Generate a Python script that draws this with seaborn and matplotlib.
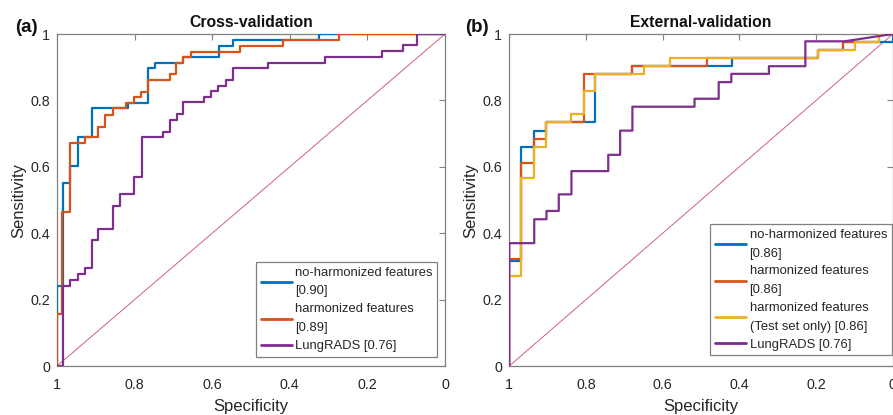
import matplotlib
matplotlib.use("Agg")
import matplotlib.pyplot as plt
import seaborn as sns
import pandas as pd

# ---------------- data ----------------
# Panel (a) Cross-validation
a_blue_spec = [1, 1, 0.984, 0.984, 0.966, 0.966, 0.947, 0.947, 0.911, 0.911, 0.817, 0.817,
               0.765, 0.765, 0.747, 0.747, 0.675, 0.675, 0.582, 0.582, 0.546, 0.546, 0.326, 0.326, 0]
a_blue_sens = [0, 0.241, 0.241, 0.552, 0.552, 0.603, 0.603, 0.689, 0.689, 0.776, 0.776, 0.793,
               0.793, 0.897, 0.897, 0.914, 0.914, 0.932, 0.932, 0.965, 0.965, 0.982, 0.982, 1.0, 1.0]

a_orange_spec = [1, 1, 0.986, 0.986, 0.966, 0.966, 0.928, 0.928, 0.894, 0.894, 0.876, 0.876,
                 0.855, 0.855, 0.821, 0.821, 0.801, 0.801, 0.784, 0.784, 0.765, 0.765, 0.710, 0.710,
                 0.693, 0.693, 0.675, 0.675, 0.655, 0.655, 0.528, 0.528, 0.417, 0.417, 0.272, 0.272, 0]
a_orange_sens = [0, 0.156, 0.156, 0.465, 0.465, 0.671, 0.671, 0.689, 0.689, 0.721, 0.721, 0.756,
                 0.756, 0.776, 0.776, 0.791, 0.791, 0.811, 0.811, 0.826, 0.826, 0.861, 0.861, 0.879,
                 0.879, 0.914, 0.914, 0.932, 0.932, 0.947, 0.947, 0.965, 0.965, 0.982, 0.982, 1.0, 1.0]

a_purple_spec = [1, 0.984, 0.984, 0.966, 0.966, 0.947, 0.947, 0.928, 0.928, 0.911, 0.911, 0.894, 0.894,
                 0.855, 0.855, 0.838, 0.838, 0.801, 0.801, 0.782, 0.782, 0.728, 0.728, 0.709, 0.709,
                 0.692, 0.692, 0.675, 0.675, 0.621, 0.621, 0.603, 0.603, 0.584, 0.584, 0.565, 0.565,
                 0.546, 0.546, 0.455, 0.455, 0.309, 0.309, 0.163, 0.163, 0.107, 0.107, 0.073, 0.073, 0]
a_purple_sens = [0, 0, 0.241, 0.241, 0.259, 0.259, 0.276, 0.276, 0.294, 0.294, 0.380, 0.380, 0.413,
                 0.413, 0.483, 0.483, 0.518, 0.518, 0.570, 0.570, 0.689, 0.689, 0.706, 0.706, 0.741,
                 0.741, 0.759, 0.759, 0.796, 0.796, 0.811, 0.811, 0.828, 0.828, 0.844, 0.844, 0.861,
                 0.861, 0.897, 0.897, 0.914, 0.914, 0.932, 0.932, 0.949, 0.949, 0.967, 0.967, 1.0, 1.0]

# Panel (b) External-validation
b_blue_spec = [1, 1, 0.970, 0.970, 0.935, 0.935, 0.903, 0.903, 0.776, 0.776, 0.679, 0.679,
               0.420, 0.420, 0.195, 0.195, 0.130, 0.130, 0, 0]
b_blue_sens = [0, 0.317, 0.317, 0.659, 0.659, 0.709, 0.709, 0.734, 0.734, 0.879, 0.879, 0.904,
               0.904, 0.928, 0.928, 0.953, 0.953, 0.976, 0.976, 1.0]

b_orange_spec = [1, 1, 0.970, 0.970, 0.935, 0.935, 0.903, 0.903, 0.806, 0.806, 0.679, 0.679,
                 0.484, 0.484, 0.195, 0.195, 0.130, 0.130, 0.035, 0.035, 0]
b_orange_sens = [0, 0.321, 0.321, 0.611, 0.611, 0.684, 0.684, 0.734, 0.734, 0.879, 0.879, 0.904,
                 0.904, 0.928, 0.928, 0.953, 0.953, 0.976, 0.976, 1.0, 1.0]

b_yellow_spec = [1, 1, 0.970, 0.970, 0.935, 0.935, 0.903, 0.903, 0.838, 0.838, 0.806, 0.806,
                 0.776, 0.776, 0.648, 0.648, 0.582, 0.582, 0.195, 0.195, 0.098, 0.098, 0.035, 0.035, 0]
b_yellow_sens = [0, 0.271, 0.271, 0.565, 0.565, 0.661, 0.661, 0.734, 0.734, 0.758, 0.758, 0.829,
                 0.829, 0.879, 0.879, 0.905, 0.905, 0.928, 0.928, 0.953, 0.953, 0.976, 0.976, 1.0, 1.0]

b_purple_spec = [1, 1, 0.935, 0.935, 0.903, 0.903, 0.871, 0.871, 0.838, 0.838, 0.742, 0.742,
                 0.711, 0.711, 0.679, 0.679, 0.517, 0.517, 0.454, 0.454, 0.421, 0.421, 0.323, 0.323,
                 0.228, 0.228, 0.126, 0]
b_purple_sens = [0, 0.370, 0.370, 0.442, 0.442, 0.467, 0.467, 0.517, 0.517, 0.587, 0.587, 0.636,
                 0.636, 0.709, 0.709, 0.781, 0.781, 0.805, 0.805, 0.855, 0.855, 0.880, 0.880, 0.903,
                 0.903, 0.978, 0.978, 1.0]

diag_spec = [1, 0]
diag_sens = [0, 1]

a_labels = ["no-harmonized features\n[0.90]", "harmonized features\n[0.89]", "LungRADS [0.76]"]
b_labels = ["no-harmonized features\n[0.86]", "harmonized features\n[0.86]",
            "harmonized features\n(Test set only) [0.86]", "LungRADS [0.76]"]
titles = ["Cross-validation", "External-validation"]
panel_tags = ["(a)", "(b)"]
ticks = [0, 0.2, 0.4, 0.6, 0.8, 1]
tick_labels = ["0", "0.2", "0.4", "0.6", "0.8", "1"]

BLUE, ORANGE, YELLOW, PURPLE = "#0072BD", "#D95319", "#EDB120", "#7E2F8E"
DIAG = "#D0607A"

# ---------------- style ----------------
sns.set_theme(style="white")
plt.rcParams["font.family"] = ["Liberation Sans", "DejaVu Sans"]
plt.rcParams["text.color"] = "#262626"

W, H = 893, 415
fig = plt.figure(figsize=(W / 100, H / 100), dpi=100)
axA = fig.add_axes([57 / W, (H - 366) / H, 388 / W, 332 / H])
axB = fig.add_axes([509.3 / W, (H - 366) / H, 383.5 / W, 332 / H])


def curve(ax, xs, ys, color, label, lw=1.6, z=3):
    df = pd.DataFrame({"spec": xs, "sens": ys})
    sns.lineplot(data=df, x="spec", y="sens", sort=False, estimator=None, color=color,
                 lw=lw, label=label, ax=ax, zorder=z)


def style_axes(ax, title, tag, tagx):
    ax.set_xlim(1, 0)
    ax.set_ylim(0, 1)
    ax.set_xticks(ticks)
    ax.set_xticklabels(tick_labels)
    ax.set_yticks(ticks)
    ax.set_yticklabels(tick_labels)
    ax.tick_params(direction="in", length=4, width=0.8, color="#808080", top=True, right=True,
                   labelsize=10.3, labelcolor="#262626")
    ax.tick_params(axis="x", pad=8.5)
    ax.tick_params(axis="y", pad=5)
    for s in ax.spines.values():
        s.set_color("#808080")
        s.set_linewidth(0.9)
    ax.set_xlabel("Specificity", fontsize=12, color="#262626", labelpad=5)
    ax.set_ylabel("Sensitivity", fontsize=12, color="#262626", labelpad=3)
    ax.set_title(title, fontsize=11.3, fontweight="bold", color="#111111", pad=5)
    fig.text(tagx / W, 1 - 27 / H, tag, fontsize=13.5, fontweight="bold", ha="center",
             va="center", color="#111111")


def make_legend(ax, anchor):
    leg = ax.legend(loc="lower right", bbox_to_anchor=anchor, fontsize=9.4, frameon=True,
                    fancybox=False, edgecolor="#808080", framealpha=1, handlelength=2.4,
                    handletextpad=0.25, labelspacing=0.45, borderpad=0.35, borderaxespad=0)
    leg.get_frame().set_linewidth(0.9)
    for t in leg.get_texts():
        t.set_linespacing(1.75)
    for l in leg.get_lines():
        l.set_linewidth(2.0)


# Panel (a)
sns.lineplot(x=diag_spec, y=diag_sens, sort=False, estimator=None, color=DIAG, lw=0.7, ax=axA, zorder=2)
curve(axA, a_blue_spec, a_blue_sens, BLUE, a_labels[0])
curve(axA, a_orange_spec, a_orange_sens, ORANGE, a_labels[1])
curve(axA, a_purple_spec, a_purple_sens, PURPLE, a_labels[2])
style_axes(axA, titles[0], panel_tags[0], 26)
make_legend(axA, (0.980, 0.028))

# Panel (b)
sns.lineplot(x=diag_spec, y=diag_sens, sort=False, estimator=None, color=DIAG, lw=0.7, ax=axB, zorder=2)
curve(axB, b_blue_spec, b_blue_sens, BLUE, b_labels[0])
curve(axB, b_orange_spec, b_orange_sens, ORANGE, b_labels[1])
curve(axB, b_yellow_spec, b_yellow_sens, YELLOW, b_labels[2])
curve(axB, b_purple_spec, b_purple_sens, PURPLE, b_labels[3])
style_axes(axB, titles[1], panel_tags[1], 477)
make_legend(axB, (0.997, 0.032))

fig.savefig("out.png", dpi=100)
